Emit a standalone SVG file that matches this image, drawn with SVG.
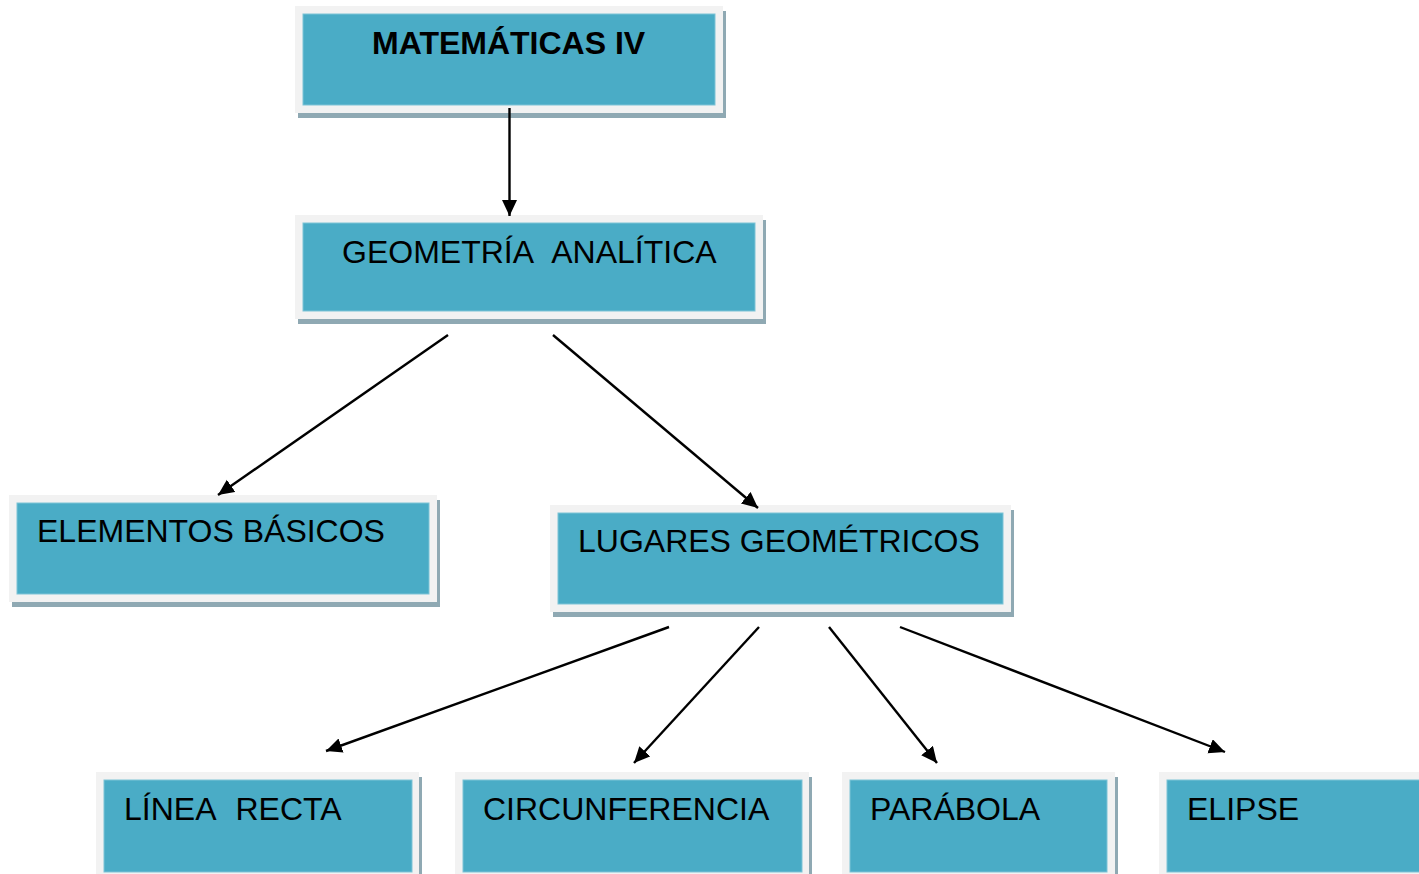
<svg xmlns="http://www.w3.org/2000/svg" width="1419" height="874" viewBox="0 0 1419 874">
<style>
.sh{fill:#8fa9b3}
.out{fill:#f2f2f2}
.in{fill:#4aacc6;stroke:#7cc3d6;stroke-width:1}
.t{font-family:"Liberation Sans",Arial,sans-serif;font-size:32px;fill:#000;white-space:pre}
.b{font-weight:bold;font-size:32px}
.w{word-spacing:1.5px}
.c{stroke:#000;stroke-width:2.4;fill:none;marker-end:url(#ah)}
</style>
<defs>
<marker id="ah" markerUnits="userSpaceOnUse" markerWidth="18" markerHeight="16" refX="16" refY="7.5" orient="auto">
<path d="M0,0 L16,7.5 L0,15 Z" fill="#000"/>
</marker>
</defs>
<rect width="1419" height="874" fill="#fff"/>
<g id="n-matematicas">
<rect class="sh" x="298" y="11" width="428" height="107"/>
<rect class="out" x="295" y="6" width="428" height="107"/>
<rect class="in" x="303" y="14" width="412" height="91"/>
<text class="t b" x="372" y="54">MATEMÁTICAS IV</text>
</g>
<g id="n-geometria">
<rect class="sh" x="298" y="220" width="468" height="104"/>
<rect class="out" x="295" y="215" width="468" height="104"/>
<rect class="in" x="303" y="223" width="452" height="88"/>
<text class="t w" x="342" y="263">GEOMETRÍA  ANALÍTICA</text>
</g>
<g id="n-elementos">
<rect class="sh" x="12" y="500" width="428" height="107"/>
<rect class="out" x="9" y="495" width="428" height="107"/>
<rect class="in" x="17" y="503" width="412" height="91"/>
<text class="t" x="37" y="542">ELEMENTOS BÁSICOS</text>
</g>
<g id="n-lugares">
<rect class="sh" x="553" y="510" width="461" height="107"/>
<rect class="out" x="550" y="505" width="461" height="107"/>
<rect class="in" x="558" y="513" width="445" height="91"/>
<text class="t" x="578" y="552">LUGARES GEOMÉTRICOS</text>
</g>
<g id="n-linea">
<rect class="sh" x="99" y="777" width="323" height="107"/>
<rect class="out" x="96" y="772" width="323" height="107"/>
<rect class="in" x="104" y="780" width="308" height="92"/>
<text class="t w" x="124" y="820">LÍNEA  RECTA</text>
</g>
<g id="n-circunferencia">
<rect class="sh" x="458" y="777" width="354" height="107"/>
<rect class="out" x="455" y="772" width="354" height="107"/>
<rect class="in" x="463" y="780" width="339" height="92"/>
<text class="t" x="483" y="820">CIRCUNFERENCIA</text>
</g>
<g id="n-parabola">
<rect class="sh" x="845" y="777" width="273" height="107"/>
<rect class="out" x="842" y="772" width="273" height="107"/>
<rect class="in" x="850" y="780" width="257" height="92"/>
<text class="t" x="870" y="820">PARÁBOLA</text>
</g>
<g id="n-elipse">
<rect class="sh" x="1162" y="777" width="300" height="107"/>
<rect class="out" x="1159" y="772" width="300" height="107"/>
<rect class="in" x="1167" y="780" width="300" height="92"/>
<text class="t" x="1187" y="820">ELIPSE</text>
</g>
<g id="connectors">
<line class="c" x1="509.5" y1="108" x2="509.5" y2="216"/>
<line class="c" x1="448" y1="335" x2="218" y2="495"/>
<line class="c" x1="553" y1="335" x2="758" y2="508"/>
<line class="c" x1="669" y1="627" x2="326" y2="751"/>
<line class="c" x1="759" y1="627" x2="634" y2="763"/>
<line class="c" x1="829" y1="627" x2="937" y2="763"/>
<line class="c" x1="900" y1="627" x2="1225" y2="752"/>
</g>
</svg>
